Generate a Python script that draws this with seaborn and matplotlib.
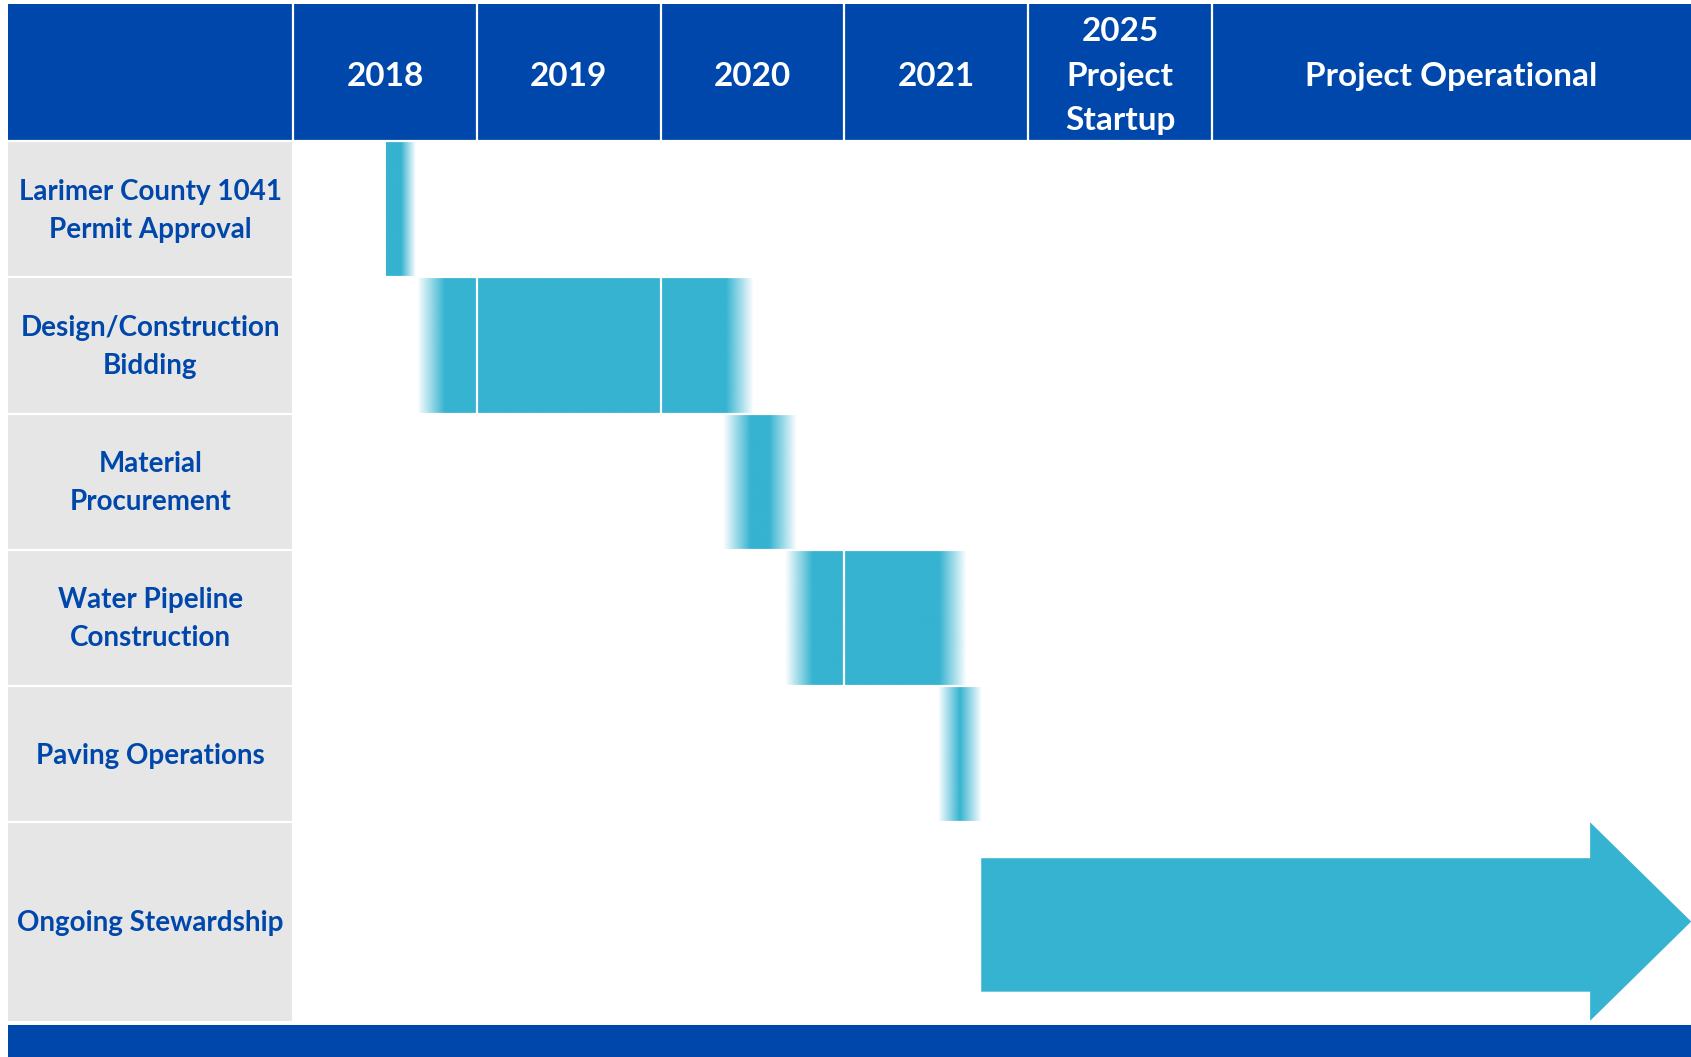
import numpy as np
import matplotlib.pyplot as plt
import matplotlib.colors as mcolors
from matplotlib.patches import Rectangle, Polygon
import seaborn as sns

sns.set_theme(style="white")
plt.rcParams['font.family'] = ['Lato', 'DejaVu Sans']

# header columns (x unit = one year column)
columns = ["2018", "2019", "2020", "2021", "2025\nProject\nStartup", "Project Operational"]
col_widths = [1, 1, 1, 1, 1, 2.61]

# tasks / rows
tasks = ["Larimer County 1041\nPermit Approval", "Design/Construction\nBidding",
         "Material\nProcurement", "Water Pipeline\nConstruction",
         "Paving Operations", "Ongoing Stewardship"]
row_heights = [1, 1, 1, 1, 1, 1.457]

# gantt bars, in column units
bar_start = [0.505, 0.672, 2.341, 2.677, 3.511]
bar_end = [0.664, 2.504, 2.741, 3.666, 3.747]
fade_left = [False, True, True, True, True]

# ongoing stewardship arrow
arrow_start = 3.745
arrow_end = 7.61

NAVY = "#0047AB"
TEAL = "#35B3D0"
GREY = "#E6E6E6"

fig = plt.figure(figsize=(16.91, 10.57), dpi=100)
ax = fig.add_axes([0, 0, 1, 1])
ax.set_axis_off()

label_left = -1.556
x_right = 7.61
col_edges = np.concatenate([[0], np.cumsum(col_widths)])
row_edges = np.concatenate([[0], np.cumsum(row_heights)])
head_top = -1.005

# header band
ax.add_patch(Rectangle((label_left, head_top), x_right - label_left, -head_top,
                       color=NAVY, lw=0, zorder=1))
for i, name in enumerate(columns):
    xc = (col_edges[i] + col_edges[i + 1]) / 2
    ax.text(xc, head_top / 2 + 0.025, name, ha='center', va='center', color='white',
            fontsize=24, fontweight='bold', linespacing=1.64, zorder=5)

# grey label column
for i, name in enumerate(tasks):
    ax.add_patch(Rectangle((label_left, row_edges[i]), -label_left, row_heights[i],
                           color=GREY, lw=0, zorder=1))
    ax.text(label_left / 2, (row_edges[i] + row_edges[i + 1]) / 2 + 0.01, name,
            ha='center', va='center', color=NAVY, fontsize=20, fontweight='bold',
            linespacing=1.57, zorder=5)

# gradient bars
rgb = mcolors.to_rgb(TEAL)
for i in range(len(bar_start)):
    s, e = bar_start[i], bar_end[i]
    f = min(0.15, (e - s) / 2)
    xs = np.linspace(s, e, 400)
    a = np.clip((e - xs) / f, 0, 1)
    if fade_left[i]:
        a *= np.clip((xs - s) / f, 0, 1)
    img = np.zeros((1, len(xs), 4))
    img[..., :3] = rgb
    img[..., 3] = a
    ax.imshow(img, extent=(s, e, row_edges[i + 1], row_edges[i]), aspect='auto',
              interpolation='bilinear', zorder=2)

# white grid lines
ax.vlines(col_edges[:-1], head_top, row_edges[-1], color='white', lw=1.6, zorder=3)
ax.hlines(row_edges[:-1], label_left, x_right, color='white', lw=1.6, zorder=3)

# arrow for ongoing stewardship
yc = (row_edges[-2] + row_edges[-1]) / 2
body = 0.49
head = row_heights[-1] / 2
head_len = 0.55
shift = 0.025
pts = [(arrow_start, yc - body + shift), (arrow_end - head_len, yc - body + shift),
       (arrow_end - head_len, yc - head), (arrow_end, yc),
       (arrow_end - head_len, yc + head), (arrow_end - head_len, yc + body + shift),
       (arrow_start, yc + body + shift)]
ax.add_patch(Polygon(pts, closed=True, color=TEAL, lw=0, zorder=4))

# footer band
ax.add_patch(Rectangle((label_left, 6.49), x_right - label_left, 0.4,
                       color=NAVY, lw=0, zorder=1))

ax.set_xlim(-1.597, 7.609)
ax.set_ylim(6.723, -1.037)
fig.savefig('out.png', dpi=100)
